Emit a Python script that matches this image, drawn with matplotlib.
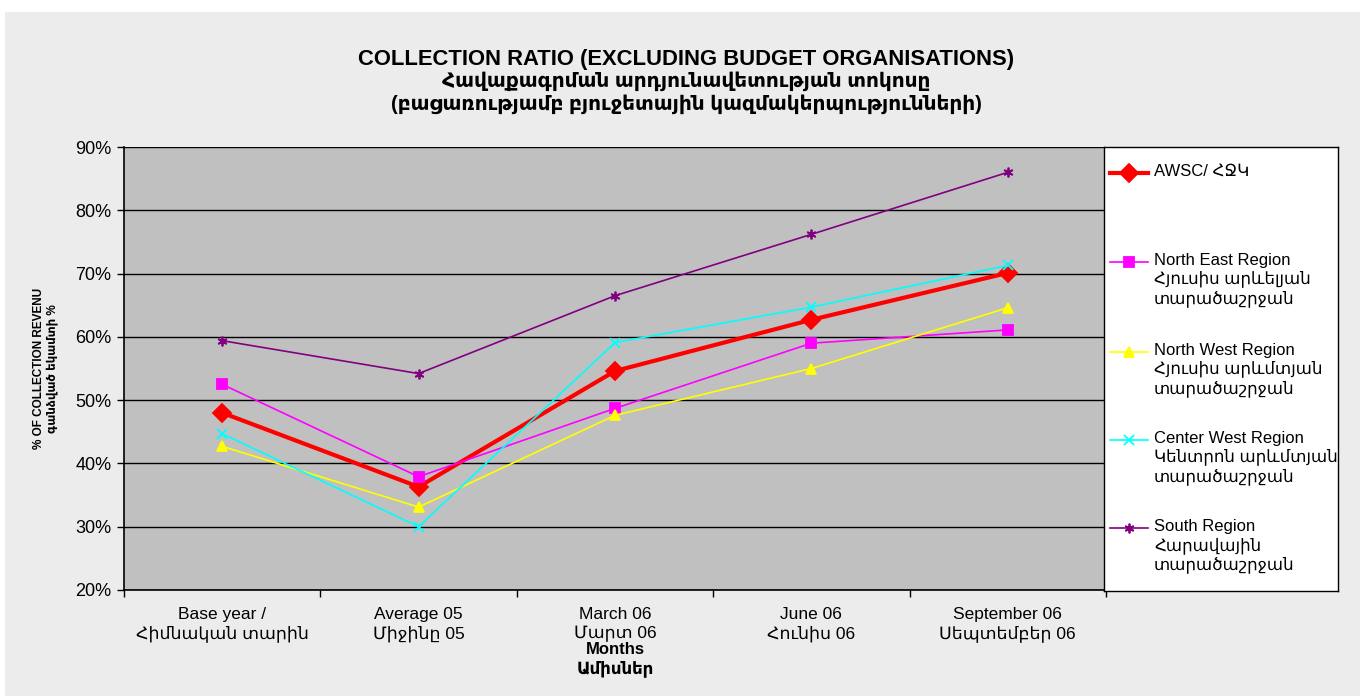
import matplotlib
matplotlib.use("Agg")
import matplotlib.pyplot as plt
from matplotlib.patches import Rectangle
from matplotlib.lines import Line2D

plt.rcParams['font.family'] = ['Liberation Sans', 'DejaVu Sans']

title_lines = ["COLLECTION RATIO (EXCLUDING BUDGET ORGANISATIONS)",
               "Հավաքագրման արդյունավետության տոկոսը",
               "(բացառությամբ բյուջետային կազմակերպությունների)"]

months = ["Base year /\nՀիմնական տարին", "Average 05\nՄիջինը 05", "March 06\nՄարտ 06",
          "June 06\nՀունիս 06", "September 06\nՍեպտեմբեր 06"]

awsc = [48.0, 36.3, 54.6, 62.7, 70.1]
north_east = [52.5, 37.9, 48.7, 59.0, 61.1]
north_west = [42.7, 33.1, 47.6, 55.0, 64.6]
center_west = [44.7, 30.0, 59.1, 64.7, 71.3]
south = [59.4, 54.2, 66.5, 76.2, 86.0]

series = [
    ("AWSC/ ՀՋԿ", awsc, "#FF0000", "D", 9, 3.0),
    ("North East Region\nՀյուսիս արևելյան\nտարածաշրջան", north_east, "#FF00FF", "s", 6.5, 1.2),
    ("North West Region\nՀյուսիս արևմտյան\nտարածաշրջան", north_west, "#FFFF00", "^", 7, 1.2),
    ("Center West Region\nԿենտրոն արևմտյան\nտարածաշրջան", center_west, "#00FFFF", "x", 7, 1.2),
    ("South Region\nՀարավային\nտարածաշրջան", south, "#800080", (6, 2, 0), 7, 1.2),
]

fig = plt.figure(figsize=(13.6, 6.96), dpi=100)
fig.patch.set_facecolor("white")
fig.patches.append(Rectangle((5 / 1360, 0), 1, 1 - 12 / 696, transform=fig.transFigure,
                             facecolor="#ECECEC", edgecolor="none", zorder=-10))

ax = fig.add_axes([124 / 1360, 1 - 590 / 696, 982 / 1360, 443 / 696])
ax.set_facecolor("#C0C0C0")
x = range(len(months))
for label, vals, color, marker, ms, lw in series:
    ax.plot(x, vals, color=color, marker=marker, markersize=ms, linewidth=lw,
            markeredgewidth=1.3, zorder=3)

ax.set_xlim(-0.5, len(months) - 0.5)
ax.set_ylim(20, 90)
ax.set_yticks(range(20, 91, 10))
ax.set_yticklabels([f"{v}%" for v in range(20, 91, 10)], fontsize=13)
ax.yaxis.grid(True, color="black", linewidth=1)
ax.set_axisbelow(True)
ax.set_xticks(list(x))
ax.set_xticklabels(months, fontsize=12.5, linespacing=1.3)
ax.set_xticks([i - 0.5 for i in range(len(months) + 1)], minor=True)
ax.tick_params(axis="x", which="major", length=0, pad=12)
ax.tick_params(axis="x", which="minor", length=5, width=1)
ax.tick_params(axis="y", length=5, width=1, pad=4)
for side in ["top", "right"]:
    ax.spines[side].set_visible(False)
for side in ["left", "bottom"]:
    ax.spines[side].set_linewidth(1.2)

ax.set_xlabel("Months\nԱմիսներ", fontsize=12, fontweight="bold", labelpad=0,
              linespacing=1.25)
ax.set_ylabel("% OF COLLECTION REVENU\nգանձված եկամտի %", fontsize=8.5,
              fontweight="bold", labelpad=12)

for txt, yc, fs in zip(title_lines, [59, 81, 104], [15.8, 14.5, 14.5]):
    fig.text(686 / 1360, 1 - yc / 696, txt, ha="center", va="center",
             fontsize=fs, fontweight="bold")

# legend box
lax = fig.add_axes([1104 / 1360, 1 - 591 / 696, 234 / 1360, 444 / 696])
lax.set_xlim(0, 234)
lax.set_ylim(444, 0)
lax.set_xticks([])
lax.set_yticks([])
lax.set_facecolor("white")
for s in lax.spines.values():
    s.set_linewidth(1)
rows = [26, 115, 205, 293, 381]
for (label, vals, color, marker, ms, lw), ry in zip(series, rows):
    lax.add_line(Line2D([6, 44], [ry, ry], color=color, linewidth=lw))
    lax.plot([25], [ry], marker=marker, color=color, markersize=ms, markeredgewidth=1.3)
    lax.text(50, ry - 9, label, fontsize=12, va="top", ha="left", linespacing=1.2)

fig.savefig("out.png", dpi=100, facecolor=fig.get_facecolor())
